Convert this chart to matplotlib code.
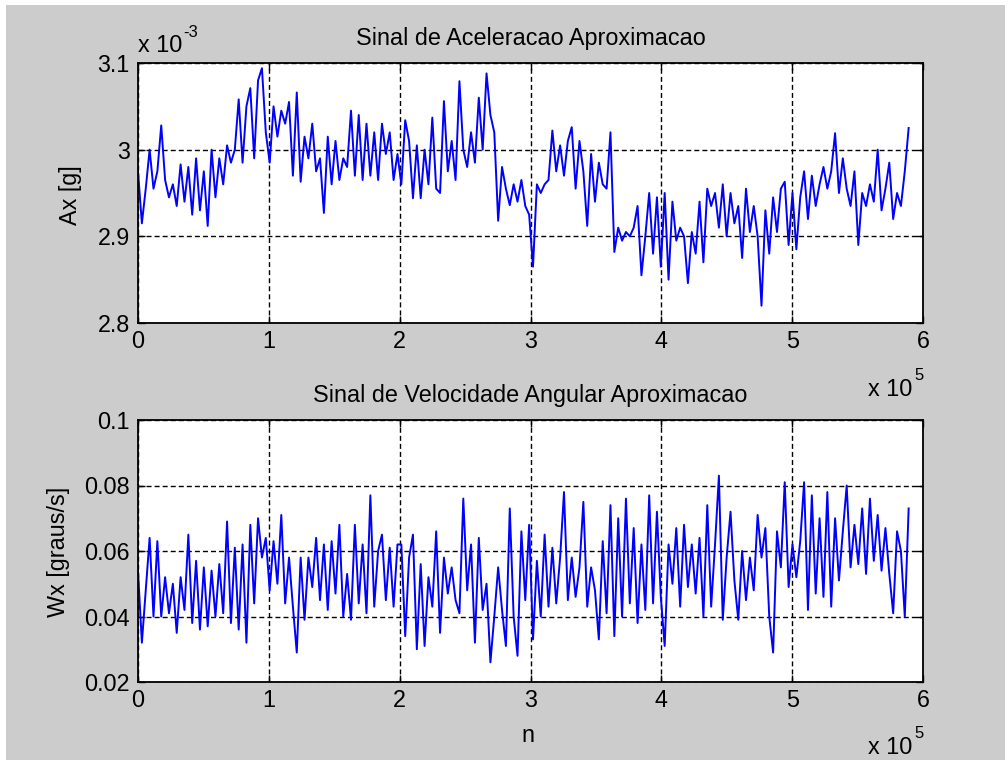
import numpy as np
import matplotlib
matplotlib.use("Agg")
import matplotlib.pyplot as plt
from matplotlib.patches import Rectangle
from matplotlib.ticker import FixedLocator, FixedFormatter

# amostra n (passo entre pontos)
N_STEP = 2960

# Ax em unidades de 1e-3 g
ax_vals = [
    2.975, 2.915, 2.955, 3.000, 2.955, 2.975, 3.028, 2.965, 2.945, 2.960,
    2.935, 2.983, 2.940, 2.980, 2.925, 2.990, 2.930, 2.975, 2.912, 3.000,
    2.945, 2.990, 2.960, 3.005, 2.985, 3.000, 3.058, 2.985, 3.050, 3.071,
    2.990, 3.080, 3.094, 3.020, 2.985, 3.050, 3.015, 3.045, 3.030, 3.055,
    2.970, 3.066, 2.963, 3.015, 2.990, 3.030, 2.975, 2.990, 2.927, 3.015,
    2.960, 3.010, 2.965, 2.990, 2.980, 3.045, 2.970, 3.040, 2.965, 3.030,
    2.970, 3.020, 2.965, 3.030, 2.995, 3.020, 2.965, 2.995,
    2.960, 3.034, 3.010, 2.944, 3.005, 2.944, 3.000, 2.960, 3.037, 2.955,
    2.950, 3.056, 2.975, 3.010, 2.965, 3.079, 3.000, 2.980, 3.020, 2.985,
    3.060, 3.000, 3.088, 3.040, 3.020, 2.918, 2.980, 2.955, 2.936, 2.960,
    2.940, 2.965, 2.935, 2.925, 2.865, 2.960, 2.950, 2.960, 2.965, 3.022,
    2.975, 3.005, 2.970, 3.010, 3.026, 2.955, 3.010, 2.975, 2.912, 2.995,
    2.940, 2.985, 2.960, 2.955, 3.020, 2.882, 2.910, 2.895, 2.905, 2.900,
    2.910, 2.935, 2.855, 2.900, 2.950, 2.880, 2.945,
    2.865, 2.950, 2.850, 2.940, 2.895, 2.910, 2.900, 2.846, 2.905, 2.880,
    2.940, 2.870, 2.955, 2.935, 2.950, 2.910, 2.960, 2.900, 2.950, 2.915,
    2.935, 2.875, 2.955, 2.905, 2.935, 2.900, 2.820, 2.930, 2.880, 2.945,
    2.905, 2.955, 2.963, 2.890, 2.950, 2.885, 2.945, 2.975, 2.920, 2.970,
    2.935, 2.960, 2.980, 2.955, 2.975, 3.019, 2.950, 2.990, 2.955, 2.935,
    2.975, 2.890, 2.950, 2.935, 2.960, 2.940, 3.000, 2.930, 2.955, 2.985,
    2.920, 2.950, 2.935, 2.975, 3.025,
]

# Wx em graus/s
wx_vals = [
    0.054, 0.032, 0.048, 0.064, 0.040, 0.063, 0.040, 0.052, 0.041, 0.050,
    0.035, 0.052, 0.042, 0.065, 0.038, 0.057, 0.036, 0.055, 0.037, 0.054,
    0.040, 0.056, 0.041, 0.069, 0.038, 0.061, 0.036, 0.062, 0.032, 0.068,
    0.044, 0.070, 0.058, 0.064, 0.048, 0.063, 0.050, 0.071, 0.044, 0.058,
    0.043, 0.029, 0.058, 0.039, 0.058, 0.049, 0.064, 0.045, 0.062, 0.042,
    0.063, 0.047, 0.068, 0.040, 0.053, 0.039, 0.068, 0.044, 0.062, 0.041,
    0.077, 0.043, 0.060, 0.065, 0.045, 0.061, 0.043, 0.062,
    0.062, 0.034, 0.058, 0.065, 0.030, 0.056, 0.031, 0.052, 0.043, 0.066,
    0.035, 0.058, 0.047, 0.055, 0.045, 0.041, 0.076, 0.048, 0.062, 0.032,
    0.064, 0.042, 0.050, 0.026, 0.040, 0.055, 0.042, 0.031, 0.073, 0.040,
    0.028, 0.066, 0.045, 0.068, 0.033, 0.057, 0.040, 0.065, 0.043, 0.061,
    0.044, 0.058, 0.078, 0.045, 0.058, 0.046, 0.055, 0.075, 0.043, 0.055,
    0.048, 0.033, 0.063, 0.041, 0.074, 0.034, 0.070, 0.040, 0.076, 0.044,
    0.067, 0.038, 0.062, 0.042, 0.077, 0.044, 0.072,
    0.046, 0.031, 0.062, 0.050, 0.067, 0.043, 0.068, 0.049, 0.062, 0.047,
    0.064, 0.040, 0.074, 0.043, 0.062, 0.083, 0.039, 0.058, 0.072, 0.051,
    0.039, 0.060, 0.045, 0.058, 0.048, 0.071, 0.058, 0.067, 0.040, 0.029,
    0.066, 0.055, 0.081, 0.049, 0.062, 0.052, 0.063, 0.081, 0.042, 0.077,
    0.047, 0.070, 0.046, 0.078, 0.043, 0.070, 0.051, 0.066, 0.080, 0.055,
    0.068, 0.056, 0.073, 0.053, 0.076, 0.057, 0.071, 0.054, 0.067, 0.053,
    0.041, 0.066, 0.060, 0.040, 0.073,
]

x_ticks = [0, 1e5, 2e5, 3e5, 4e5, 5e5, 6e5]
x_ticklabels = ["0", "1", "2", "3", "4", "5", "6"]
ax_ticks = [2.8, 2.9, 3.0, 3.1]
ax_ticklabels = ["2.8", "2.9", "3", "3.1"]
wx_ticks = [0.02, 0.04, 0.06, 0.08, 0.1]
wx_ticklabels = ["0.02", "0.04", "0.06", "0.08", "0.1"]

W, H = 1005, 760
FS = 16.8
plt.rcParams["font.family"] = ["Liberation Sans", "DejaVu Sans"]


def px(x, y):
    return x / W, 1 - y / H


def style_axes(ax, yticks, ylabels, ylim):
    ax.set_xlim(0, 6e5)
    ax.set_ylim(*ylim)
    ax.xaxis.set_major_locator(FixedLocator(x_ticks))
    ax.xaxis.set_major_formatter(FixedFormatter(x_ticklabels))
    ax.yaxis.set_major_locator(FixedLocator(yticks))
    ax.yaxis.set_major_formatter(FixedFormatter(ylabels))
    ax.tick_params(direction="in", length=5, width=1, top=True, right=True,
                   labelsize=FS, colors="black")
    ax.tick_params(axis="y", pad=6)
    ax.tick_params(axis="x", pad=5)
    ax.grid(True, color="black", linestyle=(0, (3.6, 2.2)), linewidth=1.0)
    for s in ax.spines.values():
        s.set_linewidth(1.3)
        s.set_color("black")
    ax.set_facecolor("white")


fig = plt.figure(figsize=(W / 100, H / 100), dpi=100, facecolor="white")
fig.patches.append(Rectangle((6 / W, 0), 1, 1 - 5 / H, transform=fig.transFigure,
                             facecolor="#cccccc", edgecolor="none", zorder=-10))

n = np.arange(len(ax_vals)) * N_STEP
n2 = np.arange(len(wx_vals)) * N_STEP

ax1 = fig.add_axes([138 / W, 1 - 323 / H, 785 / W, 260 / H])
ax1.plot(n, ax_vals, color="#0000ff", linewidth=1.4)
style_axes(ax1, ax_ticks, ax_ticklabels, (2.8, 3.1))
ax1.set_title("Sinal de Aceleracao Aproximacao", fontsize=FS, pad=13)

ax2 = fig.add_axes([138 / W, 1 - 682 / H, 785 / W, 262 / H])
ax2.plot(n2, wx_vals, color="#0000ff", linewidth=1.4)
style_axes(ax2, wx_ticks, wx_ticklabels, (0.02, 0.1))
ax2.set_title("Sinal de Velocidade Angular Aproximacao", fontsize=FS, pad=13)

# rotulos dos eixos
fig.text(*px(70, 195), "Ax [g]", rotation=90, ha="center", va="center", fontsize=FS)
fig.text(*px(58, 552), "Wx [graus/s]", rotation=90, ha="center", va="center", fontsize=FS)
fig.text(*px(528, 735), "n", ha="center", va="center", fontsize=FS)

# multiplicadores estilo MATLAB
fig.text(*px(138, 52), "x 10", ha="left", va="baseline", fontsize=FS)
fig.text(*px(183, 37), "-3", ha="left", va="baseline", fontsize=12)
for yb in (396, 754):
    fig.text(*px(868, yb), "x 10", ha="left", va="baseline", fontsize=FS)
    fig.text(*px(914, yb - 16), "5", ha="left", va="baseline", fontsize=12)

fig.savefig("out.png", dpi=100, facecolor=fig.get_facecolor())
